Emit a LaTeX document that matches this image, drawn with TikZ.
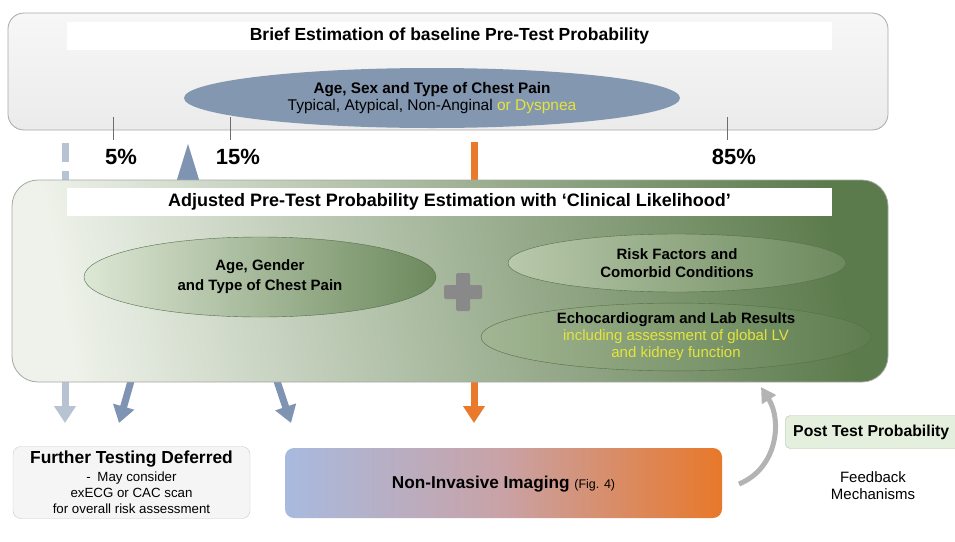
\documentclass[tikz,border=0pt]{standalone}
\usepackage{fontspec}
\setmainfont{Liberation Sans}
\usetikzlibrary{shapes.geometric,arrows.meta}
\definecolor{topfill}{HTML}{EBEBEB}
\definecolor{topline}{HTML}{A8A8A8}
\definecolor{blueell}{HTML}{8497B0}
\definecolor{tickc}{HTML}{6E6E6E}
\definecolor{dashblue}{HTML}{B7C3D3}
\definecolor{arrblue}{HTML}{7F94B2}
\definecolor{orng}{HTML}{E97A2B}
\definecolor{glight}{HTML}{EEF2EA}
\definecolor{gdark}{HTML}{5C7B4C}
\definecolor{elight}{HTML}{DDE7D5}
\definecolor{edark}{HTML}{6C895C}
\definecolor{elight2}{HTML}{B9C9AC}
\definecolor{elight3}{HTML}{A2B693}
\definecolor{edark3}{HTML}{5E7D4F}
\definecolor{yell}{HTML}{E4E43C}
\definecolor{plusc}{HTML}{898989}
\definecolor{ftdfill}{HTML}{F5F5F5}
\definecolor{ftdline}{HTML}{CBCBCB}
\definecolor{niblue}{HTML}{A8BADF}
\definecolor{nimid}{HTML}{C9A2A6}
\definecolor{niorng}{HTML}{E8782A}
\definecolor{ptfill}{HTML}{E5EFDD}
\definecolor{ptline}{HTML}{B5C5AC}
\definecolor{fbgrey}{HTML}{B3B3B3}
\tikzset{
  titlebar/.style={fill=white, draw=none, minimum height=28pt, inner sep=0pt},
  greenell/.style={ellipse, inner sep=0pt, left color=elight, right color=edark, draw=edark!80!black, line width=0.4pt, align=center, font=\fontsize{15}{18}\selectfont\bfseries},
  pct/.style={font=\fontsize{22}{24}\selectfont\bfseries},
  tickline/.style={draw=tickc, line width=1pt},
  blockarrow/.style={line width=7pt, -{Triangle[width=21pt,length=17pt]}},
}
\begin{document}
\begin{tikzpicture}[x=1pt,y=-1pt]
\useasboundingbox (0,0) rectangle (955,541);
% coordinates for connectors
\coordinate (d1) at (65,143);
\coordinate (d2) at (65,423);
\coordinate (o1) at (474,142);
\coordinate (o2) at (474,423);
\coordinate (a1s) at (137,360);
\coordinate (a1e) at (119,423);
\coordinate (a2s) at (270,360);
\coordinate (a2e) at (291,423);
\coordinate (upS) at (188,200);
\coordinate (upE) at (188,142);
% top box
\draw[topline, line width=0.8pt, top color=white!60!topfill, bottom color=topfill, rounded corners=16pt]
  (8,13) rectangle (888,130);
\node[titlebar, minimum width=765pt] (t1) at (449.5,36) {\fontsize{17.5}{20}\selectfont\bfseries Brief Estimation of baseline Pre-Test Probability};
\node[ellipse, fill=blueell, minimum width=496pt, minimum height=60pt, inner sep=0pt, align=center] (e0) at (432,98)
  {\fontsize{15.3}{17}\selectfont\bfseries Age, Sex and Type of Chest Pain\\[1pt]
   \fontsize{15.5}{17}\selectfont Typical, Atypical, Non-Anginal \textcolor{yell}{or Dyspnea}};
% ticks
\draw[tickline] (113,117) -- (113,140);
\draw[tickline] (230,117) -- (230,140);
\draw[tickline] (727,117) -- (727,140);
\node[pct] (p5) at (121,157) {5\%};
\node[pct] (p15) at (238,157) {15\%};
\node[pct] (p85) at (734,157) {85\%};
% arrows behind green box
\draw[dashblue, line width=7pt, dash pattern=on 19pt off 9pt] (d1) -- (65,300);
\draw[dashblue, blockarrow] (65,290) -- (d2);
\draw[orng, blockarrow] (o1) -- (o2);
\draw[arrblue, blockarrow] (a1s) -- (a1e);
\draw[arrblue, blockarrow] (a2s) -- (a2e);
\draw[arrblue, line width=7pt, -{Triangle[width=20pt,length=38pt]}] (upS) -- (upE);
% green box
\draw[draw=gray!70, line width=0.8pt, left color=glight, right color=gdark, shading angle=100, rounded corners=26pt]
  (12,180) rectangle (888,382);
\node[titlebar, minimum width=765pt] (t2) at (449.5,202) {\fontsize{18}{20}\selectfont\bfseries Adjusted Pre-Test Probability Estimation with ‘Clinical Likelihood’};
\node[greenell, minimum width=352pt, minimum height=80pt] (eL) at (260,277) {Age, Gender\\[2pt]and Type of Chest Pain};
\node[greenell, left color=elight2, minimum width=338pt, minimum height=58pt] (eR1) at (677,263) {Risk Factors and\\Comorbid Conditions};
\node[greenell, left color=elight3, right color=edark3, minimum width=390pt, minimum height=66pt] (eR2) at (676,337)
  {Echocardiogram and Lab Results\\[-1pt]
   {\mdseries\color{yell}including assessment of global LV}\\[-1pt]
   {\mdseries\color{yell}and kidney function}};
% plus sign
\fill[plusc, rounded corners=1.5pt] (456,273) rectangle (470,311);
\fill[plusc, rounded corners=1.5pt] (444,285) rectangle (482,299);
% bottom boxes
\node[draw=ftdline, fill=ftdfill, rounded corners=8pt, minimum width=237pt, minimum height=72pt, inner sep=0pt, align=center, font=\fontsize{13.3}{15}\selectfont] (ftd) at (131.5,482.5)
  {{\fontsize{17.4}{19}\selectfont\bfseries Further Testing Deferred}\\[3pt]
   -\enspace May consider\\[1pt]
   exECG or CAC scan\\[1pt]
   for overall risk assessment};
\shade[left color=niblue, right color=niorng, middle color=nimid, rounded corners=9pt] (285,448) rectangle (722,518);
\node (ni) at (503.5,484) {\fontsize{17.2}{19}\selectfont\bfseries Non-Invasive Imaging \fontsize{12.5}{14}\selectfont\mdseries(Fig. 4)};
\node[draw=ptline, fill=ptfill, rounded corners=5pt, minimum width=180pt, minimum height=33pt, inner sep=0pt, anchor=west] (pt) at (785,432)
  {\hspace*{-8pt}\fontsize{15.8}{18}\selectfont\bfseries Post Test Probability};
\node[align=center, font=\fontsize{15}{17}\selectfont] (fb) at (873,486) {Feedback\\Mechanisms};
% feedback arrow
\coordinate (fbS) at (739,484);
\coordinate (fbE) at (761,387);
\draw[fbgrey, line width=5pt, -{Triangle[width=16pt,length=15pt]}] (fbS) .. controls (778,468) and (782,420) .. (fbE);
\end{tikzpicture}
\end{document}
